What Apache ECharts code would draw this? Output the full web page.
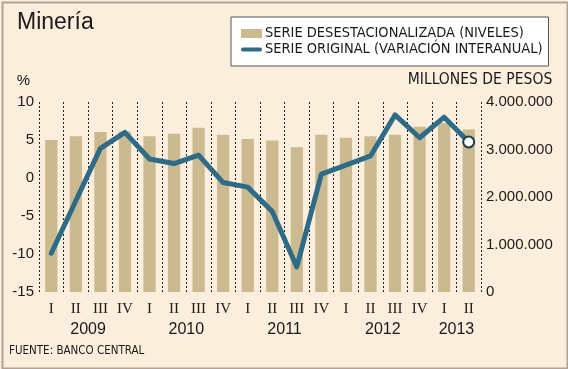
<!DOCTYPE html>
<html>
<head>
<meta charset="utf-8">
<script src="https://cdn.jsdelivr.net/npm/echarts@6/dist/echarts.min.js"></script>
<style>
  html, body { margin: 0; padding: 0; background: #FCEEDC; }
  #chart { width: 568px; height: 369px; }
</style>
</head>
<body>
<div id="chart"></div>
<script>
// Data
const quarters = ['I','II','III','IV','I','II','III','IV','I','II','III','IV','I','II','III','IV','I','II'];
const yearLabels = ['2009', '2010', '2011', '2012', '2013'];
const yearTickPos = [2, 6, 10, 14, 17];
const niveles = [3200000, 3280000, 3370000, 3380000, 3280000, 3330000, 3460000, 3310000, 3220000, 3190000, 3050000, 3310000, 3250000, 3280000, 3310000, 3480000, 3560000, 3420000];
const variacion = [-9.9, -3.0, 3.9, 6.0, 2.5, 1.9, 3.0, -0.6, -1.2, -4.4, -11.7, 0.5, 1.7, 2.9, 8.3, 5.3, 8.0, 4.75];
const leftTicks = { min: -15, max: 10, interval: 5 };
const rightTicks = { min: 0, max: 4000000, interval: 1000000 };
const serieBar = 'SERIE DESESTACIONALIZADA (NIVELES)';
const serieLine = 'SERIE ORIGINAL (VARIACIÓN INTERANUAL)';

const BAR = '#CBBA8F';
const LINE = '#2D6B86';
const SANS = '"Liberation Sans", Arial, sans-serif';
const NARROW = '"DejaVu Sans Condensed", "Liberation Sans Narrow", sans-serif';
const SERIF = '"Liberation Serif", "Times New Roman", serif';

const lineData = variacion.map((v, i) => i === variacion.length - 1
  ? { value: v, symbol: 'circle', symbolSize: 11,
      itemStyle: { color: '#ffffff', borderColor: '#1d3d4c', borderWidth: 2 } }
  : v);

const chart = echarts.init(document.getElementById('chart'), null, { renderer: 'canvas' });
chart.setOption({
  backgroundColor: '#FCEEDC',
  animation: false,
  title: {
    text: 'Minería', left: 12, top: 6,
    textStyle: { fontFamily: SANS, fontSize: 23, fontWeight: 'normal', color: '#1a1a1a' }
  },
  legend: {
    left: 231, top: 17, orient: 'vertical',
    backgroundColor: '#ffffff', borderColor: '#555555', borderWidth: 1,
    padding: [9, 6, 9, 10], itemGap: 1, itemWidth: 21, itemHeight: 9,
    textStyle: { fontFamily: NARROW, fontSize: 14.5, color: '#1a1a1a', lineHeight: 14, padding: [0, 0, 0, -2] },
    data: [
      { name: serieBar, icon: 'rect' },
      { name: serieLine, icon: 'path://M2,0 L19,0 A2,2 0 0 1 19,4 L2,4 A2,2 0 0 1 2,0 Z' }
    ]
  },
  grid: { left: 39, right: 87, top: 102, bottom: 77, containLabel: false },
  xAxis: [
    {
      type: 'category', data: quarters, boundaryGap: true,
      axisLine: { show: false }, axisTick: { show: false },
      splitLine: { show: true, lineStyle: { color: '#222', width: 1, type: [2, 2] } },
      axisLabel: { interval: 0, margin: 10, fontFamily: SERIF, fontSize: 15, color: '#1a1a1a' }
    },
    {
      type: 'value', min: 0, max: quarters.length, interval: 1, position: 'bottom',
      axisLine: { show: false }, axisTick: { show: false }, splitLine: { show: false },
      axisLabel: {
        margin: 30, fontFamily: SANS, fontSize: 16, color: '#1a1a1a',
        showMinLabel: true, showMaxLabel: true,
        formatter: v => { const k = yearTickPos.indexOf(v); return k >= 0 ? yearLabels[k] : ''; }
      }
    }
  ],
  yAxis: [
    {
      type: 'value', min: leftTicks.min, max: leftTicks.max, interval: leftTicks.interval,
      name: '%', nameLocation: 'end', nameGap: 14,
      nameTextStyle: { fontFamily: SANS, fontSize: 15, color: '#1a1a1a', align: 'right', padding: [0, 9, 0, 0] },
      axisLine: { show: false }, axisTick: { show: false }, splitLine: { show: false },
      axisLabel: { margin: 5, fontFamily: SANS, fontSize: 15, color: '#1a1a1a' }
    },
    {
      type: 'value', min: rightTicks.min, max: rightTicks.max, interval: rightTicks.interval,
      position: 'right',
      name: 'MILLONES DE PESOS', nameLocation: 'end', nameGap: 14,
      nameTextStyle: { fontFamily: NARROW, fontSize: 15.5, color: '#1a1a1a', align: 'center', padding: [0, 2, 0, 0] },
      axisLine: { show: false }, axisTick: { show: false }, splitLine: { show: false },
      axisLabel: {
        margin: 5, fontFamily: SANS, fontSize: 15, color: '#1a1a1a',
        formatter: v => String(v).replace(/\B(?=(\d{3})+(?!\d))/g, '.')
      }
    }
  ],
  series: [
    {
      name: serieBar, type: 'bar', xAxisIndex: 0, yAxisIndex: 1,
      data: niveles, barWidth: '50%',
      itemStyle: { color: BAR }, z: 2
    },
    {
      name: serieLine, type: 'line', xAxisIndex: 0, yAxisIndex: 0,
      data: lineData, symbol: 'none', showSymbol: true,
      lineStyle: { color: LINE, width: 5, join: 'round', cap: 'round' },
      itemStyle: { color: LINE }, z: 5
    }
  ],
  graphic: [
    {
      type: 'text', left: 9, top: 345,
      style: { text: 'FUENTE: BANCO CENTRAL', font: '11.5px ' + NARROW, fill: '#1a1a1a' }
    },
    {
      type: 'rect', left: 0, top: 0, silent: true, z: 100,
      shape: { x: 1, y: 1, width: 565, height: 366 },
      style: { fill: 'none', stroke: '#B3A293', lineWidth: 2 }
    }
  ]
});
</script>
</body>
</html>
